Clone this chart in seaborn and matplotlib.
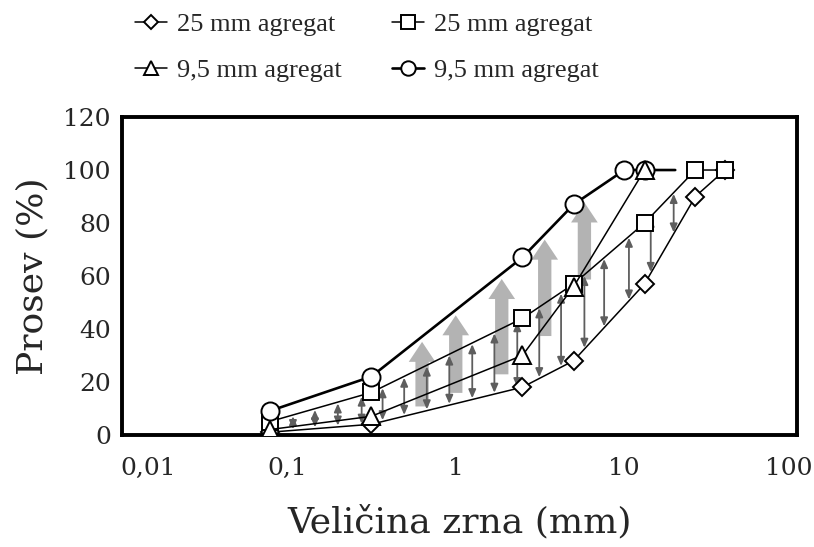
import numpy as np
import pandas as pd
import matplotlib
matplotlib.use("Agg")
import matplotlib.pyplot as plt
import matplotlib.transforms as mtransforms
import seaborn as sns
from matplotlib.ticker import FixedLocator, MultipleLocator, LogLocator, NullFormatter

# sieve sizes (mm) and passing (%)
x_d25 = [0.075, 0.3, 2.36, 4.75, 12.5, 25, 37.5]
y_d25 = [1, 4, 18, 28, 57, 90, 100]          # diamond, 25 mm agregat
x_s25 = [0.075, 0.3, 2.36, 4.75, 12.5, 25, 37.5]
y_s25 = [5, 16, 44, 57, 80, 100, 100]        # square, 25 mm agregat
x_t95 = [0.075, 0.3, 2.36, 4.75, 12.5]
y_t95 = [2, 7, 30, 56, 100]                   # triangle, 9,5 mm agregat
x_c95 = [0.075, 0.3, 2.36, 4.75, 9.5, 12.5, 19]
y_c95 = [9, 22, 67, 87, 100, 100, 100]       # circle, 9,5 mm agregat

labels = ["25 mm agregat", "25 mm agregat", "9,5 mm agregat", "9,5 mm agregat"]

# positions of the annotation arrows (mm)
thin_arrow_x = [0.103, 0.139, 0.19, 0.263, 0.35, 0.47, 0.64, 0.87, 1.19,
                1.61, 2.2, 2.97, 4.0, 5.5, 7.2, 10.1, 13.6, 18.6]
fat_arrow_x = [0.6, 0.95, 1.78, 3.2, 5.5]

xticks = [0.01, 0.1, 1, 10, 100]
xticklabels = ["0,01", "0,1", "1", "10", "100"]

sns.set_style("white")
plt.rcParams["font.family"] = ["DejaVu Serif"]

fig = plt.figure(figsize=(8.14, 5.47), dpi=100)
ax = fig.add_axes([0.150, 0.205, 0.829, 0.581])


def curve(xs, ys, xq):
    return np.interp(np.log10(xq), np.log10(xs), ys)


# fat gray arrows (triangle curve -> circle curve)
for xa in fat_arrow_x:
    lo = curve(x_t95, y_t95, xa) - 4
    hi = curve(x_c95, y_c95, xa) - 2
    ax.annotate("", xy=(xa, hi), xytext=(xa, lo),
                arrowprops=dict(arrowstyle="simple,head_width=1.2,head_length=0.9,tail_width=0.6",
                                color="#ababab", alpha=0.9, shrinkA=0, shrinkB=0,
                                mutation_scale=16, lw=0),
                zorder=1)

# thin double arrows (diamond curve <-> square curve)
for xa in thin_arrow_x:
    lo = curve(x_d25, y_d25, xa) + 0.5
    hi = curve(x_s25, y_s25, xa) - 0.5
    ax.annotate("", xy=(xa, hi), xytext=(xa, lo),
                arrowprops=dict(arrowstyle="<|-|>,head_width=0.22,head_length=0.5",
                                color="#5e5e5e", lw=1.3, shrinkA=0, shrinkB=0),
                zorder=2)

common = dict(color="black", markerfacecolor="white", markeredgecolor="black",
              markeredgewidth=1.4, zorder=4)
d25 = pd.DataFrame({"x": x_d25, "y": y_d25})
s25 = pd.DataFrame({"x": x_s25, "y": y_s25})
t95 = pd.DataFrame({"x": x_t95, "y": y_t95})
c95 = pd.DataFrame({"x": x_c95, "y": y_c95})

sns.lineplot(data=d25, x="x", y="y", ax=ax, marker="D", markersize=9, lw=1.1, **common)
sns.lineplot(data=s25, x="x", y="y", ax=ax, marker="s", markersize=12, lw=1.1, **common)
sns.lineplot(data=t95, x="x", y="y", ax=ax, marker="^", markersize=13, lw=1.1, **common)
sns.lineplot(data=c95, x="x", y="y", ax=ax, marker="o", markersize=13, lw=1.9,
             markevery=[0, 1, 2, 3, 4, 5], **common)

h_d, h_s, h_t, h_c = ax.lines[-4:]
h_t.set_zorder(5)

ax.set_xscale("log")
ax.set_xlim(0.01, 100)
ax.set_ylim(0, 120)
ax.xaxis.set_major_locator(FixedLocator(xticks))
ax.set_xticklabels(xticklabels)
ax.xaxis.set_minor_locator(LogLocator(base=10, subs=np.arange(2, 10)))
ax.xaxis.set_minor_formatter(NullFormatter())
ax.yaxis.set_major_locator(MultipleLocator(20))
ax.yaxis.set_minor_locator(MultipleLocator(4))

ax.tick_params(axis="both", which="both", direction="in", top=False, right=False,
               labelsize=18, width=1.6)
ax.tick_params(axis="both", which="major", length=7)
ax.tick_params(axis="both", which="minor", length=4.5)
ax.tick_params(axis="x", which="major", pad=16)
ax.tick_params(axis="y", which="major", pad=8)
for s in ax.spines.values():
    s.set_linewidth(2.8)
    s.set_color("black")

# nudge x tick labels like the original
shifts = [26, -4, -4, -4, -8]
for lab, dx in zip(ax.get_xticklabels(), shifts):
    lab.set_transform(lab.get_transform() +
                      mtransforms.ScaledTranslation(dx / 100, 0, fig.dpi_scale_trans))

ax.set_xlabel("Veličina zrna (mm)", fontsize=26, labelpad=18)
ax.set_ylabel("Prosev (%)", fontsize=26, labelpad=10)

fig.legend([h_d, h_t, h_s, h_c], [labels[0], labels[2], labels[1], labels[3]],
           ncol=2, loc="upper left", bbox_to_anchor=(0.166, 0.977), frameon=False,
           prop={"family": "Liberation Serif", "size": 19}, handlelength=1.2,
           handletextpad=0.4, columnspacing=1.9, labelspacing=0.85, markerscale=0.8,
           borderpad=0, borderaxespad=0)

fig.savefig("out.png", dpi=100, facecolor="white")
